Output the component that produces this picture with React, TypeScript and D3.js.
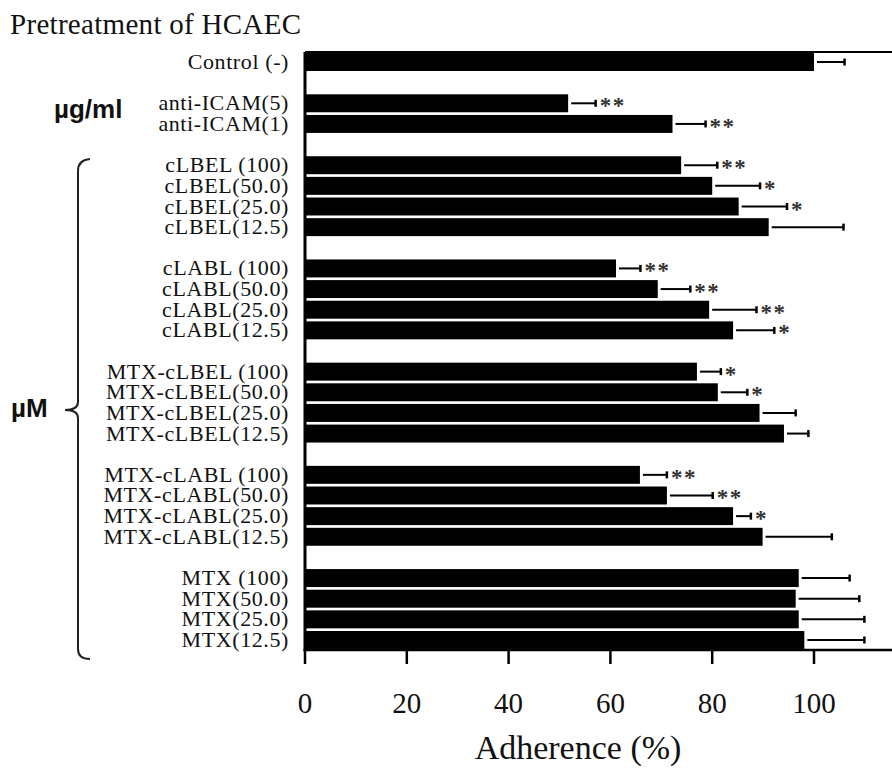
import * as React from "react";
import * as d3 from "d3";

// rows, top to bottom (groups separated by an empty slot)
const categories = [
  "Control (-)",
  "anti-ICAM(5)", "anti-ICAM(1)",
  "cLBEL (100)", "cLBEL(50.0)", "cLBEL(25.0)", "cLBEL(12.5)",
  "cLABL (100)", "cLABL(50.0)", "cLABL(25.0)", "cLABL(12.5)",
  "MTX-cLBEL (100)", "MTX-cLBEL(50.0)", "MTX-cLBEL(25.0)", "MTX-cLBEL(12.5)",
  "MTX-cLABL (100)", "MTX-cLABL(50.0)", "MTX-cLABL(25.0)", "MTX-cLABL(12.5)",
  "MTX (100)", "MTX(50.0)", "MTX(25.0)", "MTX(12.5)",
];
const groupSizes = [1, 2, 4, 4, 4, 4, 4];
const adherence = [
  100,
  51.7, 72.2,
  73.9, 80.0, 85.2, 91.1,
  61.1, 69.3, 79.4, 84.1,
  77.0, 81.1, 89.3, 94.1,
  65.8, 71.1, 84.1, 89.9,
  97.0, 96.4, 97.0, 98.1,
];
const sd = [
  6.0,
  5.4, 6.5,
  7.1, 9.4, 9.5, 14.7,
  4.8, 6.4, 9.3, 8.1,
  4.7, 5.8, 7.1, 4.8,
  5.3, 9.0, 3.5, 13.6,
  10.0, 12.5, 12.9, 11.8,
];
const significance = [
  "",
  "**", "**",
  "**", "*", "*", "",
  "**", "**", "**", "*",
  "*", "*", "", "",
  "**", "**", "*", "",
  "", "", "", "",
];
const xTicks = [0, 20, 40, 60, 80, 100];

const W = 892;
const H = 768;
const serif = "'Liberation Serif', 'Times New Roman', serif";
const sans = "'Liberation Sans', Arial, sans-serif";

export default function App() {
  // build band domain with a gap slot between groups
  const slots: string[] = [];
  let k = 0;
  groupSizes.forEach((n, g) => {
    if (g > 0) slots.push(`gap${g}`);
    for (let i = 0; i < n; i++) slots.push(categories[k++]);
  });

  const x = d3.scaleLinear().domain([0, 100]).range([305, 814]);
  const y = d3.scaleBand().domain(slots).range([52, 650]).paddingInner(0.13).paddingOuter(0.05);
  const top = 52;
  const bottom = 650;
  const cy = (c: string) => (y(c) as number) + y.bandwidth() / 2;

  // brace spanning the µM rows
  const bTop = 159;
  const bBot = 659;
  const bMid = 410;
  const bx = 78;
  const brace = d3.path();
  brace.moveTo(bx + 12, bTop);
  brace.quadraticCurveTo(bx, bTop + 1, bx, bTop + 12);
  brace.lineTo(bx, bMid - 8);
  brace.quadraticCurveTo(bx, bMid, bx - 13, bMid);
  brace.quadraticCurveTo(bx, bMid, bx, bMid + 8);
  brace.lineTo(bx, bBot - 10);
  brace.quadraticCurveTo(bx, bBot, bx + 12, bBot);

  return (
    <svg width={W} height={H} style={{ position: "absolute", left: 0, top: 0, background: "#fff" }}>
      <text x={10} y={34} fontFamily={serif} fontSize={29} letterSpacing={0.3} fill="#111">
        Pretreatment of HCAEC
      </text>

      {/* bars */}
      {categories.map((c, i) => (
        <rect key={c} x={x(0)} y={y(c)} width={x(adherence[i]) - x(0)} height={y.bandwidth()} fill="#000" />
      ))}

      {/* error bars */}
      {categories.map((c, i) => {
        const x1 = x(adherence[i]) + 3;
        const x2 = x(adherence[i] + sd[i]);
        const yc = cy(c);
        return (
          <g key={c + "-err"} stroke="#000">
            <line x1={x1} x2={x2} y1={yc} y2={yc} strokeWidth={2} />
            <line x1={x2} x2={x2} y1={yc - 3.5} y2={yc + 3.5} strokeWidth={2.5} />
          </g>
        );
      })}

      {/* significance stars */}
      {categories.map((c, i) =>
        significance[i] ? (
          <text
            key={c + "-sig"}
            x={x(adherence[i] + sd[i]) + 4}
            y={cy(c) + 10}
            fontFamily={serif}
            fontSize={23}
            fontWeight="bold"
            letterSpacing={1.5}
            fill="#333"
          >
            {significance[i]}
          </text>
        ) : null
      )}

      {/* category labels */}
      {categories.map((c) => (
        <text
          key={c + "-lbl"}
          x={289}
          y={cy(c) + 7}
          textAnchor="end"
          fontFamily={serif}
          fontSize={22}
          letterSpacing={0.6}
          fill="#111"
        >
          {c}
        </text>
      ))}

      {/* frame: left axis, top line, bottom axis */}
      <line x1={x(0)} x2={x(0)} y1={top} y2={bottom + 1} stroke="#000" strokeWidth={3} />
      <line x1={x(0)} x2={W} y1={top} y2={top} stroke="#000" strokeWidth={2} />
      <line x1={x(0) - 1.5} x2={W} y1={bottom} y2={bottom} stroke="#000" strokeWidth={2.5} />

      {xTicks.map((t) => (
        <g key={t}>
          <line x1={x(t)} x2={x(t)} y1={bottom} y2={bottom + 14} stroke="#000" strokeWidth={2.5} />
          <text x={x(t)} y={713} textAnchor="middle" fontFamily={serif} fontSize={29} fill="#111">
            {t}
          </text>
        </g>
      ))}

      <text x={578} y={759} textAnchor="middle" fontFamily={serif} fontSize={34} fill="#111">
        Adherence (%)
      </text>

      {/* unit annotations */}
      <text x={54} y={118} fontFamily={sans} fontWeight="bold" fontSize={26} fill="#111">
        µg/ml
      </text>
      <text x={11} y={417} fontFamily={sans} fontWeight="bold" fontSize={26} fill="#111">
        µM
      </text>
      <path d={brace.toString()} fill="none" stroke="#222" strokeWidth={2} />
    </svg>
  );
}
